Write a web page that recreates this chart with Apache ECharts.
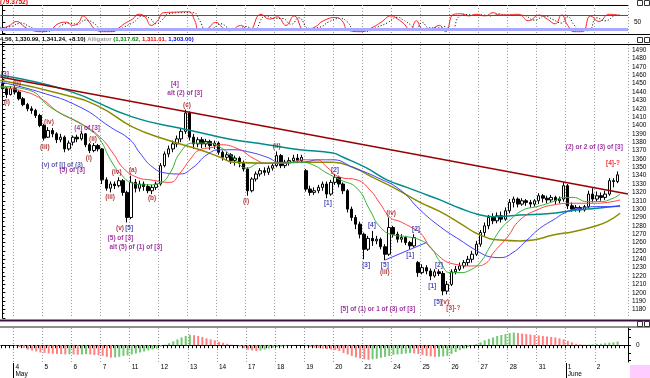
<!DOCTYPE html>
<html>
<head>
<meta charset="utf-8">
<title>Alligator</title>
<script src="https://cdn.jsdelivr.net/npm/echarts@6.0.0/dist/echarts.min.js"></script>
<style>
  html, body { margin: 0; padding: 0; background: #fff; }
  #main { width: 650px; height: 378px; }
</style>
</head>
<body>
<div id="main"></div>
<script>
// session labels (7 hourly bars per session)
const dayLabels = ['4','5','6','7','11','12','13','14','17','18','19','20','21','24','25','26','27','28','31','1','2'];
const monthLabels = { 0: 'May', 19: 'June' };
const firstDayBar = 3;
const barsPerDay = 7;
const slotCount = 151;

// hourly candles: [open, close, low, high]
const candles = [
  [1450,1444,1441,1455],[1444,1437,1433,1446],[1437,1444,1436,1447],
  [1444,1440,1437,1447],[1440,1432,1430,1442],[1432,1425,1423,1434],[1425,1420,1417,1427],[1420,1418,1414,1423],[1418,1412,1409,1420],[1412,1400,1398,1414],
  [1400,1385,1382,1402],[1386,1394,1385,1398],[1394,1390,1386,1397],[1390,1383,1379,1392],[1383,1386,1380,1390],[1386,1372,1368,1388],[1372,1379,1370,1382],
  [1380,1386,1376,1388],[1386,1384,1380,1389],[1384,1390,1382,1393],[1390,1377,1374,1391],[1377,1370,1367,1379],[1370,1376,1368,1379],[1376,1372,1369,1378],
  [1372,1335,1330,1373],[1335,1325,1322,1338],[1325,1330,1320,1333],[1330,1328,1324,1333],[1328,1334,1326,1338],[1334,1320,1316,1336],[1320,1290,1284,1322],
  [1290,1332,1288,1340],[1332,1325,1320,1336],[1325,1330,1321,1334],[1330,1327,1322,1333],[1327,1322,1319,1330],[1322,1326,1318,1329],[1326,1330,1323,1333],
  [1330,1352,1328,1355],[1352,1366,1350,1369],[1366,1372,1362,1376],[1372,1378,1368,1382],[1378,1384,1374,1388],[1384,1393,1380,1396],[1393,1415,1390,1419],
  [1415,1386,1382,1417],[1386,1378,1372,1390],[1378,1383,1374,1386],[1383,1378,1373,1386],[1378,1381,1374,1384],[1381,1376,1371,1383],[1376,1379,1372,1382],
  [1379,1368,1365,1381],[1368,1362,1358,1370],[1362,1365,1358,1368],[1365,1358,1354,1367],[1358,1361,1352,1364],[1361,1355,1350,1363],[1355,1348,1345,1358],
  [1348,1322,1316,1350],[1322,1336,1320,1338],[1336,1342,1333,1345],[1342,1346,1339,1349],[1346,1344,1340,1350],[1344,1349,1341,1352],[1349,1352,1346,1355],
  [1352,1364,1350,1369],[1364,1352,1349,1366],[1352,1356,1349,1359],[1356,1358,1352,1362],[1358,1361,1355,1365],[1361,1358,1355,1366],[1358,1362,1355,1365],
  [1346,1324,1321,1348],[1324,1320,1316,1328],[1320,1322,1317,1326],[1322,1326,1319,1329],[1326,1330,1322,1333],[1330,1318,1313,1333],[1318,1332,1316,1335],
  [1332,1338,1329,1342],[1338,1330,1326,1340],[1330,1322,1318,1332],[1322,1300,1296,1324],[1300,1290,1286,1303],[1290,1282,1276,1293],[1282,1270,1265,1285],
  [1270,1252,1240,1272],[1252,1265,1250,1268],[1265,1262,1256,1274],[1262,1264,1258,1268],[1264,1255,1252,1266],[1255,1246,1239,1258],[1246,1278,1244,1290],
  [1278,1270,1266,1280],[1270,1264,1260,1273],[1264,1266,1260,1270],[1266,1260,1257,1268],[1260,1256,1252,1262],[1256,1266,1254,1270],[1236,1224,1219,1238],
  [1224,1230,1222,1234],[1230,1226,1222,1233],[1226,1220,1215,1229],[1220,1225,1218,1228],[1225,1223,1220,1228],[1223,1202,1197,1226],[1202,1210,1198,1214],
  [1210,1225,1208,1228],[1225,1228,1222,1232],[1228,1232,1226,1236],[1232,1236,1229,1239],[1236,1240,1232,1244],[1240,1246,1236,1250],[1246,1258,1244,1262],
  [1258,1272,1255,1275],[1272,1280,1268,1284],[1280,1290,1276,1293],[1290,1286,1282,1295],[1286,1292,1283,1296],[1292,1288,1284,1297],[1288,1298,1286,1302],
  [1298,1308,1295,1312],[1308,1312,1302,1315],[1312,1306,1302,1314],[1306,1310,1304,1313],[1310,1308,1304,1312],[1308,1306,1302,1311],[1306,1310,1303,1312],
  [1310,1316,1306,1319],[1316,1313,1308,1318],[1313,1311,1307,1316],[1311,1314,1308,1317],[1314,1310,1306,1316],[1310,1312,1307,1315],[1312,1328,1309,1332],
  [1328,1304,1300,1330],[1304,1300,1297,1308],[1300,1302,1297,1305],[1302,1299,1296,1304],[1299,1303,1297,1305],[1303,1318,1301,1322],[1318,1312,1308,1325],
  [1312,1316,1309,1321],[1316,1314,1310,1320],[1314,1318,1311,1322],[1318,1334,1316,1337],[1334,1333,1326,1337],[1333,1341,1331,1345]
];

// moving averages, read as [bar, price]
const maTeal = [[-0.5,1460],[15.6,1442],[31.4,1410],[44.4,1395],[52.4,1386],[55.5,1383],[63.7,1377],[71.6,1371],[79.5,1367],[82,1362],[87.7,1349],[92.5,1335],[97.3,1326],[100.5,1320],[105.3,1311],[110.1,1301],[114.9,1293],[118,1291],[124.5,1293],[132.5,1295],[138.2,1299],[143.1,1301],[148.6,1304]];
const maOlive = [[-0.5,1454],[15.6,1436],[23.5,1422],[31.4,1398],[39.5,1383],[47.5,1371],[52.4,1362],[55.5,1356],[63.7,1355],[71.6,1356],[79.5,1356],[84.3,1350],[89.1,1338],[94,1326],[100.5,1308],[105.3,1297],[110.1,1283],[114.9,1269],[119.7,1263],[124.5,1262],[127.7,1263],[132.5,1269],[137.3,1273],[142.1,1279],[145.5,1285],[148.6,1295]];
const jawBlue = [[-0.5,1452],[9,1440],[18.7,1422],[26,1398],[30.7,1383],[33.1,1367],[36.2,1350],[39.5,1343],[42.7,1342],[45.9,1350],[49.2,1365],[52.4,1371],[55.5,1371],[59.6,1368],[63.7,1362],[66.8,1356],[71.6,1356],[76.5,1359],[79.5,1359],[84.3,1350],[90.1,1338],[95.7,1323],[100.5,1299],[105.3,1279],[110.1,1263],[114.9,1248],[117.3,1243],[119.7,1242],[122.8,1248],[126.2,1263],[129.3,1277],[132.5,1287],[135.9,1297],[139,1301],[143.8,1303],[148.6,1303]];
const teethRed = [[-0.5,1446],[4.2,1442],[9,1433],[13.8,1415],[18.7,1403],[23.5,1386],[26.6,1367],[29.1,1349],[32.4,1338],[35.5,1335],[40.3,1332],[42.7,1343],[45.1,1359],[47.5,1371],[50.7,1374],[52.4,1377],[57.2,1371],[60.3,1361],[63.7,1355],[68.5,1355],[72.3,1359],[75.7,1359],[78.1,1350],[81.3,1338],[85.3,1335],[88.4,1323],[90.8,1307],[93.3,1290],[95.7,1285],[98.8,1277],[100.5,1272],[103.7,1250],[108.9,1234],[113.7,1232],[116.5,1236],[118,1247],[121.4,1266],[124.5,1287],[128.6,1299],[132.5,1305],[137.3,1307],[142.1,1307],[145.5,1308],[148.6,1311]];
const lipsGreen = [[-0.5,1447],[6.6,1442],[11.5,1422],[17,1407],[21,1395],[23.5,1383],[26,1359],[28.3,1343],[31.4,1331],[34.8,1329],[37.9,1331],[40.3,1343],[42.7,1367],[45.9,1379],[49.2,1379],[52.4,1374],[55.5,1362],[58.8,1349],[62,1355],[66.8,1355],[71.6,1356],[74.7,1353],[78.1,1343],[81.3,1335],[85.3,1325],[88.4,1299],[90.8,1279],[94,1269],[97.3,1267],[100.5,1263],[102.9,1255],[105.3,1237],[107.7,1224],[110.1,1224],[112.5,1227],[114.9,1236],[117.3,1255],[119.7,1275],[122.1,1287],[125.3,1299],[128.6,1303],[132.5,1309],[134.9,1314],[137.3,1314],[140.6,1309],[143.8,1309],[146.9,1313],[148.6,1318]];
const trendLine = [[-0.5,1458],[150.5,1318]];
const channelLine = [[92,1239],[102,1260]];

// stochastic oscillator (top pane), [bar, value]
const stochK = [[-0.5,21],[1.4,31],[3.4,52],[5.4,28],[7.4,12],[9.4,8],[11.4,14],[13.4,42],[15.4,49],[16.9,35],[18.4,49],[19.4,76],[20.9,49],[22.4,17],[24.4,8],[26.4,8],[28.3,28],[29.3,42],[31.3,62],[32.8,83],[34.3,72],[35.8,35],[37.3,55],[38.8,90],[41.3,92],[44.8,94],[46.3,55],[47.3,14],[49.3,21],[51.3,48],[53.3,21],[54.8,12],[57.3,35],[59.3,14],[62.2,83],[64.2,62],[66.2,72],[68.2,35],[70.2,76],[72.7,14],[75.2,28],[77.2,55],[80.2,69],[81.7,55],[83.2,14],[86.2,8],[89.2,28],[91.1,49],[93.6,76],[95.1,62],[96.6,42],[98.1,14],[99.6,55],[101.1,21],[103.1,21],[105.1,35],[106.6,8],[108.6,83],[110.6,85],[112.1,76],[114.1,83],[116.1,76],[118.1,90],[119.6,80],[121.1,80],[124.1,83],[126.6,55],[129.1,80],[131.1,62],[133,42],[134.5,80],[136,35],[137.5,8],[139.5,8],[141.5,76],[143.5,52],[146,83],[148,80]];
const stochD = [[-0.5,25],[2,30],[4.5,45],[6.5,30],[8.5,15],[10.5,10],[12.5,15],[14.5,38],[16.5,45],[18,40],[20,58],[22,45],[23.5,20],[25.5,10],[27.5,12],[29.5,30],[31.5,48],[33.8,75],[35.5,65],[37,42],[38.5,60],[40,85],[43,90],[46,90],[47.5,55],[48.8,20],[50.5,22],[52.5,42],[54.5,22],[56,14],[58.5,30],[60.5,18],[63.3,75],[65.5,65],[67.3,65],[69.5,40],[71.3,68],[73.8,22],[76.5,28],[78.5,50],[81.3,65],[83,50],[84.5,18],[87.5,10],[90.5,30],[92.5,45],[95,70],[96.5,58],[98,40],[99.5,20],[101,48],[102.5,25],[104.5,24],[106.2,30],[108,12],[110,75],[112,82],[113.5,78],[115.5,80],[117.5,76],[119.5,85],[121,80],[123.5,80],[125.5,78],[128,58],[130.5,75],[132.5,60],[134.5,45],[136,72],[137.5,38],[139,12],[141,12],[143,68],[145,55],[147.5,78],[148.5,80]];

// oscillator histogram (bottom pane), one value per bar
const aoValues = [
  0.3,0.2,-0.3,
  -1,-2,-3,-4.5,-5.5,-6.5,-7.5,
  -8,-8.5,-8.8,-9,-9.2,-9.5,-9.3,
  -9.5,-9.8,-9.6,-9.2,-9.5,-10,-10.3,
  -11,-12,-12.8,-12.6,-12,-11,-10.5,
  -9.5,-8.5,-7.5,-6.5,-5.5,-4.5,-3.5,
  -1.5,0.5,2,4,6,8,9.5,
  10.7,10.3,9.5,8.5,7,6,5,
  3.5,2.5,1.5,0.5,0,-1.5,-3,
  -4.5,-5.5,-6,-5.5,-4.5,-3.5,-2.5,
  -2,-1.5,-1,-0.5,-0.3,0.2,0,
  -1,-2,-2.5,-3,-3.5,-4,-4.5,
  -5,-6,-8,-9.5,-11,-12.5,-13.5,
  -14.5,-15,-14.5,-14,-13,-12,-11,
  -10,-9.5,-9,-8.5,-8,-8.5,-9,
  -10,-11,-11.5,-12,-11.8,-11.5,-11,
  -9,-7,-5,-3.5,-2,-0.5,1,
  3,5,6.5,8,9.5,10.5,11.5,
  12.5,13,12.5,12,11.5,11,10.5,
  10,9.5,9,8.5,8,7,6,
  4.5,3,1.5,0.8,0.5,0.6,0.8,
  1.2,1.5,2,2.5,3,3.8
];

// wave annotations: [bar, price, text, colour]
const waveLabels = [
  [0.6,1461,'[3]','#8b008b'],
  [1.1,1428,'(i)','#990000'],
  [3.5,1450,'(ii)','#990000'],
  [10.2,1374,'(iii)','#990000'],
  [11.2,1404,'(iv)','#990000'],
  [20.4,1397,'(4) of [3]','#8b008b'],
  [21.8,1384,'(ii)','#990000'],
  [20.8,1361,'(i)','#990000'],
  [14.4,1353,'(v) of [i] of (3)','#333399'],
  [16.8,1347,'(5) of [3]','#8b008b'],
  [25.9,1314,'(iii)','#990000'],
  [27.5,1344,'(iv)','#990000'],
  [31.4,1347,'(a)','#990000'],
  [28.3,1277,'(v)','#990000'],
  [30.5,1277,'[5]','#1a1aa6'],
  [28.4,1265,'(5) of [3]','#8b008b'],
  [32.1,1255,'alt (5) of (1) of [3]','#8b008b'],
  [36,1313,'(b)','#990000'],
  [41.5,1449,'[4]','#8b008b'],
  [43.9,1439,'alt (2) of [3]','#8b008b'],
  [44.4,1424,'(c)','#990000'],
  [58.6,1310,'(i)','#990000'],
  [66,1375,'(ii)','#990000'],
  [78.3,1307,'[1]','#1a1aa6'],
  [80,1346,'[2]','#1a1aa6'],
  [87.5,1233,'[3]','#1a1aa6'],
  [88.9,1281,'[4]','#1a1aa6'],
  [92,1233,'[5]','#1a1aa6'],
  [92,1225,'(iii)','#990000'],
  [93.5,1295,'(iv)','#990000'],
  [98.1,1245,'[1]','#1a1aa6'],
  [99.5,1276,'[2]','#1a1aa6'],
  [103.4,1208,'[1]','#1a1aa6'],
  [105,1233,'[2]','#1a1aa6'],
  [104.8,1189,'[5]','#1a1aa6'],
  [106.5,1189,'(v)','#990000'],
  [108.5,1181,'[3]-?','#ee0000'],
  [90.3,1180,'[5] of (1) or 1 of (3) of [3]','#8b008b'],
  [142.4,1374,'(2) or 2 of (3) of [3]','#8b008b'],
  [146.9,1355,'[4]-?','#ee0000']
];

const FONT = '"Liberation Sans", Arial, sans-serif';
const categories = Array.from({ length: slotCount }, (_, i) => String(i));
const dayStart = {};
dayLabels.forEach((d, k) => { dayStart[firstDayBar + k * barsPerDay] = k; });
const isDayStart = idx => dayStart[idx] !== undefined;

const grids = [
  { left: 0.3, right: 22, top: 5, height: 29 },
  { left: 0.3, right: 22, top: 41.9, height: 275.9 },
  { left: 0.3, right: 22, top: 328, height: 35 }
];

function catAxis(gridIndex, extra) {
  return Object.assign({
    type: 'category', gridIndex, data: categories, boundaryGap: true,
    axisLine: { show: false }, axisTick: { show: false }, axisLabel: { show: false },
    splitLine: { show: true, interval: (i) => isDayStart(i), lineStyle: { color: '#9a9a9a', type: [1, 2], width: 1 } }
  }, extra || {});
}
function valAxisX(gridIndex) {
  return { type: 'value', gridIndex, min: -0.5, max: slotCount - 0.5, show: false };
}

const lineSeries = (data, color, width) => ({
  type: 'line', xAxisIndex: 4, yAxisIndex: 1, data, smooth: true, showSymbol: false,
  symbol: 'none', lineStyle: { color, width }, z: 3, silent: true
});

const option = {
  animation: false,
  backgroundColor: '#fff',
  grid: grids,
  xAxis: [
    catAxis(0),
    catAxis(1),
    catAxis(2, {
      axisLine: { show: true, lineStyle: { color: '#000', width: 1 } },
      axisTick: { show: true, interval: 0, length: 3, lineStyle: { color: '#000' } },
      axisLabel: {
        show: true, interval: 0, margin: 2, align: 'left',
        formatter: (v, i) => {
          const k = dayStart[i];
          if (k === undefined) return '';
          return monthLabels[k] ? '{d|' + dayLabels[k] + '}\n{m|' + monthLabels[k] + '}' : '{d|' + dayLabels[k] + '}';
        },
        rich: {
          d: { fontSize: 6.5, fontFamily: FONT, color: '#000', lineHeight: 7 },
          m: { fontSize: 6.5, fontFamily: FONT, color: '#000', lineHeight: 7 }
        }
      }
    }),
    valAxisX(0),
    valAxisX(1)
  ],
  yAxis: [
    {
      type: 'value', gridIndex: 0, position: 'right', min: -2, max: 123, splitLine: { show: false },
      axisLine: { show: true, lineStyle: { color: '#000' } },
      axisTick: { show: true, length: 3, customValues: [0, 50, 100], lineStyle: { color: '#000' } },
      axisLabel: { customValues: [50], fontSize: 6.5, fontFamily: FONT, color: '#000', margin: 6 }
    },
    {
      type: 'value', gridIndex: 1, position: 'right', min: 1170, max: 1500, interval: 10,
      splitLine: { show: false },
      axisLine: { show: true, lineStyle: { color: '#000' } },
      axisTick: { show: true, length: 3, lineStyle: { color: '#000' } },
      minorTick: { show: true, splitNumber: 2, length: 2, lineStyle: { color: '#000' } },
      axisLabel: {
        fontSize: 6.5, fontFamily: FONT, color: '#000', margin: 4,
        showMinLabel: false, showMaxLabel: false,
        formatter: v => (v <= 1170 || v >= 1500) ? '' : String(v)
      }
    },
    {
      type: 'value', gridIndex: 2, position: 'right', min: -17.3, max: 17.7,
      splitLine: { show: false },
      axisLine: { show: true, lineStyle: { color: '#000' } },
      axisTick: { show: true, length: 3, customValues: [-16, -8, 0, 8, 16], lineStyle: { color: '#000' } },
      axisLabel: { customValues: [0], fontSize: 6.5, fontFamily: FONT, color: '#000', margin: 8 }
    }
  ],
  series: [
    {
      type: 'line', xAxisIndex: 3, yAxisIndex: 0, data: stochD, smooth: true, symbol: 'none',
      lineStyle: { color: '#000', width: 1, type: [1, 2] }, silent: true,
      markLine: {
        symbol: 'none', silent: true, label: { show: false },
        data: [
          { yAxis: 80, lineStyle: { color: '#3c3cff', width: 1, type: 'solid' } },
          { yAxis: 20, lineStyle: { color: '#a8a8ff', width: 3, type: 'solid' } }
        ]
      }
    },
    {
      type: 'line', xAxisIndex: 3, yAxisIndex: 0, data: stochK, smooth: true, symbol: 'none',
      lineStyle: { color: '#ff2020', width: 1 }, silent: true
    },
    {
      type: 'candlestick', xAxisIndex: 1, yAxisIndex: 1, data: candles, barWidth: 3,
      itemStyle: { color: '#fff', color0: '#000', borderColor: '#000', borderColor0: '#000', borderWidth: 1 },
      z: 2
    },
    lineSeries(maTeal, '#008b8b', 1.5),
    lineSeries(maOlive, '#8b8b00', 1.5),
    lineSeries(jawBlue, '#4040ff', 1),
    lineSeries(teethRed, '#ff4040', 1),
    lineSeries(lipsGreen, '#33b033', 1),
    Object.assign(lineSeries(trendLine, '#990000', 1.5), { smooth: false }),
    Object.assign(lineSeries(channelLine, '#4040ff', 1), { smooth: false }),
    {
      type: 'scatter', xAxisIndex: 4, yAxisIndex: 1, symbolSize: 1, z: 5, silent: true,
      itemStyle: { color: 'rgba(0,0,0,0)' },
      data: waveLabels.map(w => ({ value: [w[0], w[1]], name: w[2], label: { color: w[3] } })),
      label: {
        show: true, position: 'inside', formatter: p => p.name,
        fontSize: 6.5, fontWeight: 'bold', fontFamily: FONT
      }
    },
    {
      type: 'bar', xAxisIndex: 2, yAxisIndex: 2, data: aoValues, barWidth: 2,
      itemStyle: {
        color: p => (p.dataIndex > 0 && aoValues[p.dataIndex] < aoValues[p.dataIndex - 1]) ? '#ff8080' : '#72c872'
      }
    }
  ],
  graphic: [
    { type: 'text', x: 0, y: -1, style: { text: '(79.3752)', fill: '#e00000', font: 'bold 6.5px ' + FONT } },
    { type: 'line', shape: { x1: 0, y1: 5.5, x2: 628, y2: 5.5 }, style: { stroke: '#000', lineWidth: 1 } },
    { type: 'line', shape: { x1: 0, y1: 34.5, x2: 650, y2: 34.5 }, style: { stroke: '#000', lineWidth: 1 } },
    { type: 'line', shape: { x1: 0, y1: 44.5, x2: 650, y2: 44.5 }, style: { stroke: '#000', lineWidth: 1 } },
    {
      type: 'text', x: 0, y: 36.5,
      style: {
        text: '{k|4.56, 1,330.99, 1,341.24, +8.10)} {a|Alligator} {g|(1,317.62,} {r|1,311.01,} {b|1,303.00)}',
        font: 'bold 6px ' + FONT,
        rich: {
          k: { fill: '#000', font: 'bold 6px ' + FONT },
          a: { fill: '#999', font: 'bold 6px ' + FONT },
          g: { fill: '#008800', font: 'bold 6px ' + FONT },
          r: { fill: '#ee0000', font: 'bold 6px ' + FONT },
          b: { fill: '#0000ee', font: 'bold 6px ' + FONT }
        }
      }
    },
    { type: 'line', shape: { x1: 0, y1: 320.5, x2: 650, y2: 320.5 }, style: { stroke: '#401040', lineWidth: 2 } },
    { type: 'line', shape: { x1: 0, y1: 327, x2: 650, y2: 327 }, style: { stroke: '#909090', lineWidth: 2 } },
    { type: 'rect', shape: { x: 630, y: 365, width: 20, height: 13 }, style: { fill: '#ffccff' } },
    { type: 'rect', shape: { x: 637.5, y: 0.5, width: 5, height: 5 }, style: { fill: '#fff', stroke: '#333' } },
    { type: 'rect', shape: { x: 644.5, y: 0.5, width: 5, height: 5 }, style: { fill: '#fff', stroke: '#333' } },
    { type: 'rect', shape: { x: 637.5, y: 37.5, width: 5, height: 5 }, style: { fill: '#fff', stroke: '#333' } },
    { type: 'rect', shape: { x: 644.5, y: 37.5, width: 5, height: 5 }, style: { fill: '#fff', stroke: '#333' } },
    { type: 'rect', shape: { x: 637.5, y: 321.5, width: 5, height: 5 }, style: { fill: '#fff', stroke: '#333' } },
    { type: 'rect', shape: { x: 644.5, y: 321.5, width: 5, height: 5 }, style: { fill: '#fff', stroke: '#333' } }
  ]
};

const chart = echarts.init(document.getElementById('main'));
chart.setOption(option);

// long separator ticks at month starts, placed through the axis scale
const monthTicks = Object.keys(monthLabels).map(k => {
  const bar = firstDayBar + Number(k) * barsPerDay;
  const x = Math.round(chart.convertToPixel({ xAxisIndex: 3 }, bar - 0.5)) + 0.5;
  return { type: 'line', shape: { x1: x, y1: 363, x2: x, y2: 378 }, style: { stroke: '#000', lineWidth: 1 } };
});
chart.setOption({ graphic: option.graphic.concat(monthTicks) });

window.onresize = function () { chart.resize(); };
</script>
</body>
</html>
